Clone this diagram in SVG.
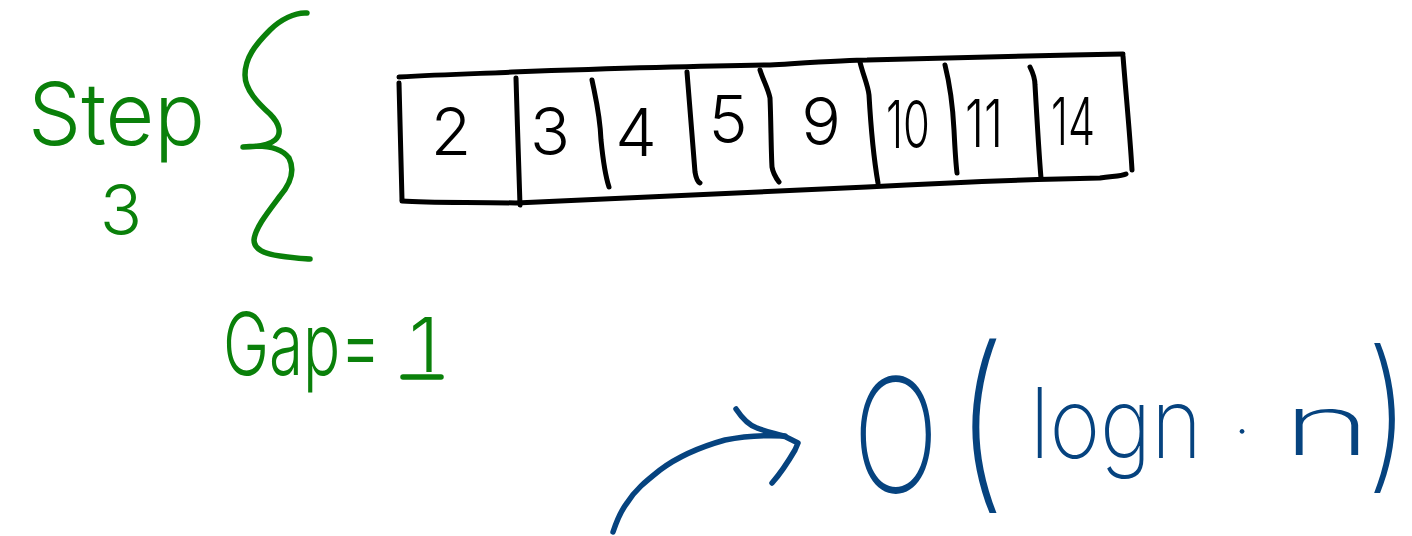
<svg xmlns="http://www.w3.org/2000/svg" width="1412" height="536" viewBox="0 0 1412 536">
<style>
.ink{fill:none;stroke-linecap:round;stroke-linejoin:round}
.blk{stroke:#000;stroke-width:5}
.grn{stroke:#0a800a;stroke-width:5.5}
.blu{stroke:#06437f;stroke-width:5.5}
.d{font-family:Inter,"Liberation Sans",Arial,sans-serif;font-weight:300;font-size:66px;fill:#000;text-anchor:middle}
.g{font-family:Inter,"Liberation Sans",Arial,sans-serif;font-weight:300;fill:#0a800a}
.b{font-family:Inter,"Liberation Sans",Arial,sans-serif;font-weight:200;fill:#06437f}
</style>
<rect width="1412" height="536" fill="#fff"/>

<g id="step-label">
  <text class="g" x="28" y="145" font-size="86" textLength="177" lengthAdjust="spacingAndGlyphs">Step</text>
  <text class="g" x="121" y="235" font-size="70" text-anchor="middle">3</text>
</g>

<g id="brace">
  <path class="ink grn" d="M307,13 C295,12 280,20 270,30 C255,45 245,58 245,75 C245,90 258,103 270,114 C280,124 282,134 275,140 C268,146 255,147 243,147 C260,145 280,146 289,158 C295,170 291,183 280,196 C268,212 255,228 254,240 C254,250 265,254 280,256 C295,258 305,259 310,259"/>
</g>

<g id="array">
  <path class="ink blk" d="M399,77 C450,74 500,73 512,72 C600,69 700,66 770,65 C820,62 850,60 867,60 C950,58 1020,56 1072,55 L1123,54"/>
  <path class="ink blk" d="M399,83 C400,120 401,160 402,200"/>
  <path class="ink blk" d="M402,201 C430,203 470,202 516,203 C650,196 780,190 867,187 C960,182 1050,179 1100,178 C1115,176 1122,176 1126,174"/>
  <path class="ink blk" d="M1123,56 C1126,95 1130,135 1132,170"/>
  <path class="ink blk" d="M516,78 C517,120 519,165 520,205"/>
  <path class="ink blk" d="M592,80 C596,100 600,115 601,140 C603,160 605,175 609,187"/>
  <path class="ink blk" d="M687,72 C690,110 693,150 695,172 C696,178 698,182 700,183"/>
  <path class="ink blk" d="M760,70 C763,80 768,88 770,98 C771,120 771,150 772,167 C773,173 776,178 779,182"/>
  <path class="ink blk" d="M860,62 C863,75 868,85 869,95 C871,130 874,160 878,183"/>
  <path class="ink blk" d="M945,65 C950,85 953,110 954,130 C955,150 956,165 957,173"/>
  <path class="ink blk" d="M1030,67 C1033,73 1035,78 1035,85 C1037,120 1039,155 1041,178"/>
  <text class="d" x="451" y="155">2</text>
  <text class="d" x="550" y="155">3</text>
  <text class="d" x="636" y="156">4</text>
  <text class="d" x="728" y="143">5</text>
  <text class="d" x="821" y="145" font-size="60">9</text>
  <text class="d" x="908" y="148" textLength="44" lengthAdjust="spacingAndGlyphs">10</text>
  <text class="d" x="984" y="147" textLength="38" lengthAdjust="spacingAndGlyphs">11</text>
  <text class="d" x="1073" y="145" textLength="44" lengthAdjust="spacingAndGlyphs">14</text>
</g>

<g id="gap-label">
  <text class="g" transform="translate(223,375) scale(0.72,1)" font-size="86">Gap=</text>
  <text class="g" x="424" y="372" font-size="76" text-anchor="middle">1</text>
  <path class="ink grn" d="M403,377 L441,377"/>
</g>

<g id="connectors">
  <path class="ink blu" d="M613,532 C617,520 620,512 627,503 C635,490 645,482 660,470 C680,455 700,447 725,440 C745,436 765,435 785,436"/>
  <path class="ink blu" d="M736,409 C742,418 748,425 757,428 C767,432 777,434 786,437 L798,443 L795,450 C788,462 780,474 772,483"/>
</g>

<g id="complexity">
  <text class="b" transform="translate(853,492) scale(0.72,1)" font-size="158">O</text>
  <text class="b" transform="translate(955,487) scale(0.8,1)" font-size="192">(</text>
  <text class="b" x="1030" y="458" font-size="98" textLength="172" lengthAdjust="spacingAndGlyphs">logn</text>
  <text class="b" x="1242" y="452" font-size="60" text-anchor="middle">·</text>
  <text class="b" x="1282" y="455" font-size="84" font-weight="100" textLength="90" lengthAdjust="spacingAndGlyphs">n</text>
  <text class="b" transform="translate(1366,470) scale(0.8,1)" font-size="165">)</text>
</g>
</svg>
